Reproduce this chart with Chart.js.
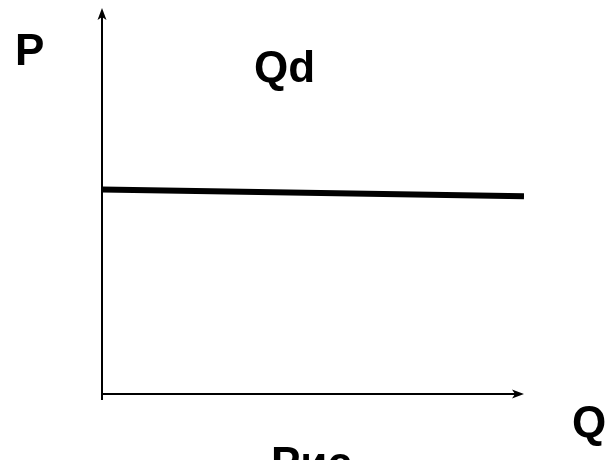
<!DOCTYPE html>
<html>
<head>
<meta charset="utf-8">
<title>Qd</title>
<script src="https://cdn.jsdelivr.net/npm/chart.js@4/dist/chart.umd.min.js"></script>
<style>
  html, body { margin: 0; padding: 0; background: #fff; }
  #box { width: 607px; height: 460px; }
</style>
</head>
<body>
<div id="box"><canvas id="demandChart"></canvas></div>
<script>
// Demand curve, quantity on x, price on y
const quantity = [0, 10];
const price = [5.3, 5.12];

const axisLabels = { y: 'P', x: 'Q', curve: 'Qd', caption: 'Рис.' };

document.addEventListener('DOMContentLoaded', () => {
    function arrowHead(ctx, x, y, dir) {
        // dir: 'up' or 'right'
        ctx.save();
        ctx.translate(x, y);
        if (dir === 'right') ctx.rotate(Math.PI / 2);
        ctx.beginPath();
        ctx.moveTo(0, 0);
        ctx.lineTo(-4.5, 12);
        ctx.lineTo(0, 9);
        ctx.lineTo(4.5, 12);
        ctx.closePath();
        ctx.fill();
        ctx.restore();
    }

    // Axes with arrows plus the letter labels
    const axesPlugin = {
        id: 'axesPlugin',
        afterDraw(chart) {
            const ctx = chart.ctx;
            const xs = chart.scales.x;
            const ys = chart.scales.y;
            const x0 = xs.getPixelForValue(0);
            const y0 = ys.getPixelForValue(0);
            const top = ys.getPixelForValue(ys.max);
            const right = xs.getPixelForValue(xs.max);

            ctx.save();
            ctx.strokeStyle = '#000';
            ctx.fillStyle = '#000';
            ctx.lineWidth = 2;
            ctx.beginPath();
            ctx.moveTo(x0, y0 + 6);
            ctx.lineTo(x0, top + 6);
            ctx.moveTo(x0, y0);
            ctx.lineTo(right - 6, y0);
            ctx.stroke();
            arrowHead(ctx, x0, top, 'up');
            arrowHead(ctx, right, y0, 'right');

            ctx.font = 'bold 44px "Liberation Sans", Arial, sans-serif';
            ctx.textAlign = 'left';
            ctx.textBaseline = 'alphabetic';
            ctx.fillText(axisLabels.y, 15, 65);
            ctx.fillText(axisLabels.curve, 254, 82);
            ctx.fillText(axisLabels.x, 572, 437);
            ctx.fillText(axisLabels.caption, 271, 478);
            ctx.restore();
        }
    };

    const ctx = document.getElementById('demandChart').getContext('2d');

    new Chart(ctx, {
        type: 'line',
        data: {
            datasets: [{
                label: axisLabels.curve,
                data: quantity.map((q, i) => ({ x: q, y: price[i] })),
                borderColor: '#000',
                borderWidth: 6,
                borderCapStyle: 'butt',
                pointRadius: 0,
                tension: 0
            }]
        },
        options: {
            responsive: true,
            maintainAspectRatio: false,
            animation: false,
            layout: { padding: { left: 102, right: 83, top: 8, bottom: 66 } },
            plugins: {
                legend: { display: false },
                tooltip: { enabled: false }
            },
            scales: {
                x: {
                    type: 'linear',
                    min: 0,
                    max: 10,
                    display: false
                },
                y: {
                    min: 0,
                    max: 10,
                    display: false
                }
            }
        },
        plugins: [axesPlugin]
    });
});
</script>
</body>
</html>
